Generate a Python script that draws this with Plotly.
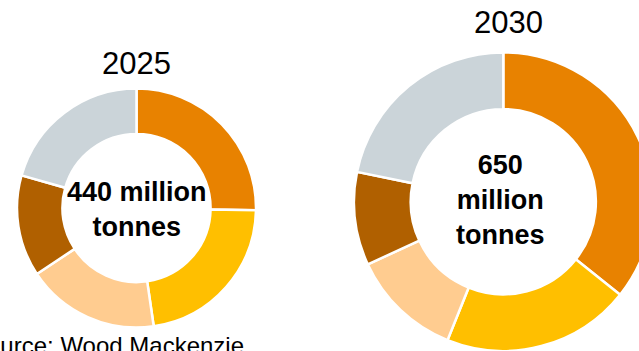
import plotly.graph_objects as go

# Data (shares in %)
categories = ["Segment 1", "Segment 2", "Segment 3", "Segment 4", "Segment 5"]
share_2025 = [25.3, 22.4, 18.0, 13.7, 20.6]
share_2030 = [35.7, 20.4, 12.0, 10.1, 21.8]
years = ["2025", "2030"]
totals = ["440 million<br>tonnes", "650<br>million<br>tonnes"]
source = "Source: Wood Mackenzie"

colors = ["#E88200", "#FFBF00", "#FFCC90", "#B06000", "#CBD4D9"]

W, H = 660, 351  # figure slightly wider than the window so the right donut is cropped

def dom_x(cx, r):
    return [(cx - r) / W, (cx + r) / W]

def dom_y(cy, r):
    yb = H - cy
    return [max(0, (yb - r) / H), min(1, (yb + r) / H)]

fig = go.Figure()
common = dict(
    sort=False, direction="clockwise", rotation=0, hole=0.62,
    textinfo="none", hoverinfo="skip",
    marker=dict(colors=colors, line=dict(color="white", width=2.5)),
    showlegend=False,
)
fig.add_trace(go.Pie(labels=categories, values=share_2025,
                     domain=dict(x=dom_x(136.5, 119.5), y=dom_y(208, 119.5)), **common))
fig.add_trace(go.Pie(labels=categories, values=share_2030,
                     domain=dict(x=dom_x(503.3, 149.3), y=[0, 298.6 / H]), **common))

font = "Liberation Sans, Arial, sans-serif"
ann = [
    dict(text=years[0], x=136.8 / W, y=1 - 63 / H, font=dict(size=31, color="black", family=font)),
    dict(text=years[1], x=508.3 / W, y=1 - 22.5 / H, font=dict(size=31, color="black", family=font)),
    dict(text="<b>%s</b>" % totals[0], x=137 / W, y=1 - 209 / H,
         font=dict(size=27, color="black", family=font)),
    dict(text="<b>%s</b>" % totals[1], x=501 / W, y=1 - 199.5 / H,
         font=dict(size=27, color="black", family=font)),
]
for a in ann:
    a.update(xref="paper", yref="paper", xanchor="center", yanchor="middle", showarrow=False)
ann.append(dict(text=source, x=246 / W, y=1 - 345 / H, xref="paper", yref="paper",
                xanchor="right", yanchor="middle", showarrow=False,
                font=dict(size=24, color="black", family=font)))

fig.update_layout(
    width=W, height=H, margin=dict(l=0, r=0, t=0, b=0),
    paper_bgcolor="white", plot_bgcolor="white",
    annotations=ann,
)

fig.write_html("out.html", config={"displayModeBar": False, "responsive": False},
               post_script="document.documentElement.style.overflow='hidden';document.body.style.overflow='hidden';document.body.style.margin='0';")
